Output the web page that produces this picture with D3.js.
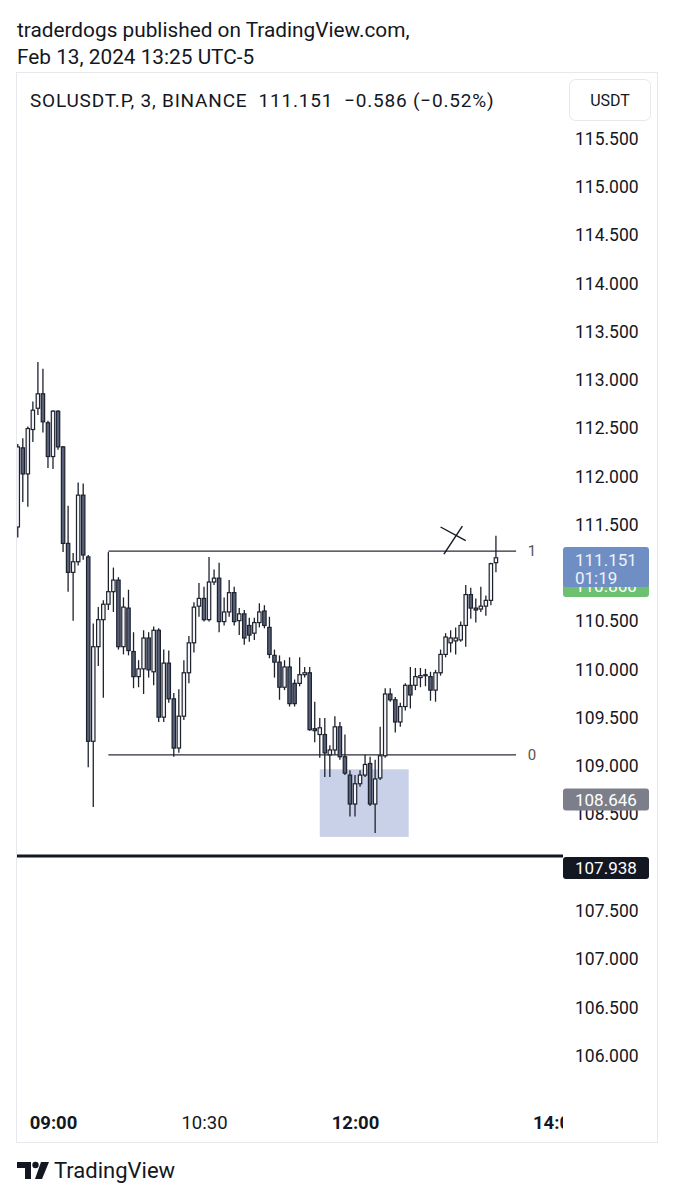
<!DOCTYPE html>
<html><head><meta charset="utf-8">
<script src="https://cdn.jsdelivr.net/npm/d3@7"></script>
<style>
html,body{margin:0;padding:0;background:#fff;}
svg{display:block;font-family:Roboto,"Noto Sans",sans-serif;}
</style></head>
<body>
<svg id="c" width="673" height="1200"></svg>
<script>
// ---------- DATA ----------
const startTime = "2024-02-13T08:39:00";   // first bar, 3-minute bars
const barMinutes = 3;
const opens  = [111.47,112.29,112.02,112.48,112.70,112.85,112.55,112.20,112.67,112.30,111.30,111.00,111.11,111.80,111.16,109.25,110.23,110.51,110.67,110.80,110.92,110.23,110.63,110.18,109.92,110.00,110.32,109.97,110.40,109.50,110.06,109.69,109.18,109.51,109.96,110.27,110.65,110.73,110.51,110.90,110.94,110.49,110.59,110.79,110.50,110.57,110.45,110.37,110.48,110.60,110.43,110.14,110.07,109.81,110.02,109.85,109.85,109.94,109.96,109.38,109.32,109.32,109.11,109.16,109.40,109.09,108.90,108.60,108.81,108.90,109.02,108.60,108.87,109.10,109.74,109.68,109.45,109.61,109.83,109.83,109.91,109.93,109.92,109.78,109.96,110.15,110.27,110.29,110.30,110.45,110.77,110.63,110.62,110.65,110.71,111.10];
const highs  = [112.33,112.39,112.51,112.77,113.18,113.11,112.57,112.68,112.68,112.31,111.69,111.20,111.93,111.92,111.18,110.47,110.64,110.71,111.21,111.05,110.95,110.74,110.82,110.38,110.09,110.40,110.38,110.44,110.42,110.20,110.19,109.75,109.79,110.09,110.34,110.69,110.89,110.85,111.16,111.03,111.10,110.74,110.92,110.85,110.63,110.61,110.53,110.53,110.68,110.66,110.54,110.20,110.14,110.09,110.12,109.89,110.12,110.02,110.02,109.66,109.49,109.49,109.21,109.51,109.45,109.32,108.95,108.90,108.95,109.11,109.09,109.06,109.40,109.80,109.80,109.71,109.65,109.85,110.02,110.01,110.01,110.00,109.97,109.99,110.20,110.37,110.40,110.43,110.49,110.87,110.84,110.73,110.85,110.76,111.10,111.38];
const lows   = [111.36,111.73,111.68,112.35,112.63,112.45,112.08,112.07,112.27,111.21,110.80,110.50,111.07,111.13,108.98,108.57,110.03,109.70,110.61,110.59,110.20,110.15,110.14,109.80,109.81,109.74,109.91,109.83,109.45,109.45,109.65,109.09,109.13,109.47,109.85,110.17,110.54,110.49,110.49,110.87,110.38,110.45,110.54,110.45,110.35,110.25,110.28,110.30,110.43,110.42,110.11,109.91,109.68,109.78,109.61,109.61,109.82,109.91,109.36,109.24,109.08,108.88,108.88,109.11,109.06,108.90,108.47,108.47,108.78,108.88,108.58,108.30,108.85,109.08,109.66,109.34,109.40,109.57,109.59,109.78,109.81,109.82,109.67,109.66,109.93,110.12,110.17,110.15,110.28,110.23,110.52,110.48,110.59,110.55,110.66,111.00];
const closes = [112.30,112.02,112.49,112.68,112.85,112.56,112.20,112.67,112.30,111.30,111.00,111.11,111.80,111.18,109.25,110.23,110.51,110.67,110.80,110.92,110.23,110.64,110.19,109.92,110.00,110.32,109.99,110.40,109.50,110.06,109.69,109.18,109.51,109.96,110.27,110.64,110.73,110.51,110.90,110.94,110.49,110.59,110.79,110.49,110.57,110.32,110.35,110.48,110.59,110.45,110.15,110.07,109.81,110.02,109.64,109.64,109.94,109.96,109.37,109.36,109.39,109.13,109.16,109.40,109.09,108.92,108.60,108.81,108.90,109.01,108.60,108.86,109.10,109.74,109.68,109.45,109.61,109.83,109.73,109.92,109.93,109.94,109.78,109.96,110.15,110.33,110.32,110.32,110.45,110.77,110.63,110.61,110.65,110.71,111.09,111.151];

// visible price-scale labels (111.000 and 108.000 sit fully under price tags)
const priceTicks = [106,106.5,107,107.5,108.5,109,109.5,110,110.5,111.5,112,112.5,113,113.5,114,114.5,115,115.5];
const timeTicks  = ["09:00","10:30","12:00","14:00"];
const boldTimes  = ["09:00","12:00","14:00"];

// fib levels (price), start / end time
const fibLevels = [111.22, 109.11];
const fibLabels = ["1", "0"];
const fibStart = "2024-02-13T09:33:00";
const fibEnd   = "2024-02-13T13:36:00";
const fibLabelTime = "2024-02-13T13:43:00";

// highlighted box
const boxTimes  = ["2024-02-13T11:39:00","2024-02-13T12:32:00"];
const boxPrices = [108.96, 108.26];

// hand-drawn cross
const crossA = [["2024-02-13T12:53:00",111.19],["2024-02-13T13:04:00",111.48]];
const crossB = [["2024-02-13T12:51:00",111.47],["2024-02-13T13:06:00",111.33]];

// horizontal line
const hLinePrice = 108.062;

// price labels
const lastPrice = "111.151", countdown = "01:19";
const greenLabel = 110.86;
const grayLabel = 108.646;
const blackLabel = 107.938;

// ---------- DRAW ----------
const parse = d3.isoParse;
const t0 = parse(startTime);
const bars = opens.map((o,i)=>({t:new Date(+t0 + i*barMinutes*60000), o, h:highs[i], l:lows[i], c:closes[i]}));

const svg = d3.select("#c");
const x = d3.scaleTime().domain([parse("2024-02-13T09:00:00"), parse("2024-02-13T12:00:00")]).range([53, 355]);
const y = d3.scaleLinear().domain([106, 115.5]).range([1055, 138]);

const ink = "#131722";

// header
svg.append("text").attr("x",17).attr("y",37).attr("font-size",20.8).attr("fill",ink).text("traderdogs published on TradingView.com,");
svg.append("text").attr("x",17).attr("y",64).attr("font-size",20.8).attr("fill",ink).text("Feb 13, 2024 13:25 UTC-5");

// container
svg.append("rect").attr("x",16.5).attr("y",72.5).attr("width",641).attr("height",1070).attr("fill","#fff").attr("stroke","#e6e8ee");

svg.append("text").attr("x",30).attr("y",107).attr("font-size",19).attr("letter-spacing",0.8).attr("fill",ink)
  .attr("xml:space","preserve").text("SOLUSDT.P, 3, BINANCE  111.151  \u22120.586 (\u22120.52%)");
svg.append("rect").attr("x",569.5).attr("y",79.5).attr("width",81).attr("height",41).attr("rx",6).attr("fill","#fff").attr("stroke","#e6e8ee");
svg.append("text").attr("x",610).attr("y",106).attr("text-anchor","middle").attr("font-size",16).attr("fill",ink).text("USDT");

// clip for plot
svg.append("clipPath").attr("id","plot").append("rect").attr("x",17).attr("y",73).attr("width",546).attr("height",1030);
const plot = svg.append("g").attr("clip-path","url(#plot)");

// box
plot.append("rect")
  .attr("x", x(parse(boxTimes[0]))).attr("y", y(boxPrices[0]))
  .attr("width", x(parse(boxTimes[1])) - x(parse(boxTimes[0])))
  .attr("height", y(boxPrices[1]) - y(boxPrices[0]))
  .attr("fill","#c9d1e8");

// fib lines
fibLevels.forEach((p,i)=>{
  plot.append("line").attr("x1",x(parse(fibStart))).attr("x2",x(parse(fibEnd)))
    .attr("y1",y(p)).attr("y2",y(p)).attr("stroke","#2a2e39").attr("stroke-width",1.3);
  plot.append("text").attr("x",x(parse(fibLabelTime))).attr("y",y(p)+5).attr("font-size",15).attr("fill","#555")
    .text(fibLabels[i]);
});

// candles
const bw = 3.4;
const cg = plot.append("g");
cg.selectAll("line.w").data(bars).join("line").attr("class","w")
  .attr("x1",d=>x(d.t)).attr("x2",d=>x(d.t)).attr("y1",d=>y(d.h)).attr("y2",d=>y(d.l))
  .attr("stroke","#1e222d").attr("stroke-width",1.3);
cg.selectAll("rect.b").data(bars).join("rect").attr("class","b")
  .attr("x",d=>x(d.t)-bw/2).attr("width",bw)
  .attr("y",d=>y(Math.max(d.o,d.c)))
  .attr("height",d=>Math.max(1, Math.abs(y(d.o)-y(d.c))))
  .attr("fill",d=>d.c>=d.o ? "#f2f4f8" : "#56607a")
  .attr("stroke","#1e222d").attr("stroke-width",1.2);

// cross
[crossA, crossB].forEach(seg=>{
  plot.append("line").attr("x1",x(parse(seg[0][0]))).attr("y1",y(seg[0][1]))
    .attr("x2",x(parse(seg[1][0]))).attr("y2",y(seg[1][1]))
    .attr("stroke",ink).attr("stroke-width",1.4);
});

// thick horizontal line
svg.append("line").attr("x1",17).attr("x2",563).attr("y1",y(hLinePrice)).attr("y2",y(hLinePrice))
  .attr("stroke",ink).attr("stroke-width",3);

// price axis
const ya = d3.axisRight(y).tickValues(priceTicks).tickFormat(d3.format(".3f")).tickSize(0).tickPadding(0);
const yg = svg.append("g").attr("transform","translate(575,0)").call(ya);
yg.select(".domain").remove();
yg.selectAll("text").attr("font-size",17.5).attr("fill",ink).attr("font-family","Roboto,sans-serif").attr("dy","0.36em");

// price labels
function label(yc, h, fill, lines, tcol){
  svg.append("rect").attr("x",563).attr("y",yc-h/2).attr("width",86).attr("height",h).attr("rx",3).attr("fill",fill);
  lines.forEach((s,i)=>{
    svg.append("text").attr("x",575).attr("y",yc - (lines.length-1)*9 + i*18).attr("dy","0.36em")
      .attr("font-size",17).attr("fill",tcol).text(s);
  });
}
label(y(greenLabel), 22, "#6cc070", [d3.format(".3f")(greenLabel)], "#fff");
svg.append("rect").attr("x",563).attr("y",547).attr("width",86).attr("height",y(greenLabel)+11-547-10).attr("rx",3).attr("fill","#6f8fc4");
svg.append("text").attr("x",575).attr("y",y(+lastPrice)+2).attr("dy","0.36em").attr("font-size",17).attr("fill","#eef2fb").text(lastPrice);
svg.append("text").attr("x",575).attr("y",y(+lastPrice)+20).attr("dy","0.36em").attr("font-size",17).attr("fill","#eef2fb").text(countdown);
label(y(grayLabel), 22, "#7c7f8a", [d3.format(".3f")(grayLabel)], "#fff");
label(y(blackLabel), 22, ink, [d3.format(".3f")(blackLabel)], "#fff");

// time axis (clipped at the price scale edge)
svg.append("clipPath").attr("id","tclip").append("rect").attr("x",17).attr("y",1100).attr("width",546).attr("height",40);
const xa = d3.axisBottom(x).tickValues(timeTicks.map(s=>parse("2024-02-13T"+s+":00"))).tickFormat(d3.timeFormat("%H:%M")).tickSize(0).tickPadding(0);
const xwrap = svg.append("g").attr("clip-path","url(#tclip)");
const xg = xwrap.append("g").attr("transform","translate(0,1122)").call(xa);
xg.select(".domain").remove();
xg.selectAll("text").attr("font-size",18.5).attr("fill",ink).attr("font-family","Roboto,sans-serif").attr("dy","0.36em")
  .attr("font-weight",d=>boldTimes.includes(d3.timeFormat("%H:%M")(d)) ? "bold" : "normal");

// footer logo
const lg = svg.append("g").attr("fill",ink);
lg.append("path").attr("d","M17,1162 H31 V1179 H25 V1168 H17 Z");
lg.append("circle").attr("cx",35.5).attr("cy",1165).attr("r",3.2);
lg.append("path").attr("d","M41,1162 H49 L42,1179 H35 Z");
svg.append("text").attr("x",54).attr("y",1178).attr("font-size",22).attr("fill",ink).text("TradingView");
</script>
</body></html>
